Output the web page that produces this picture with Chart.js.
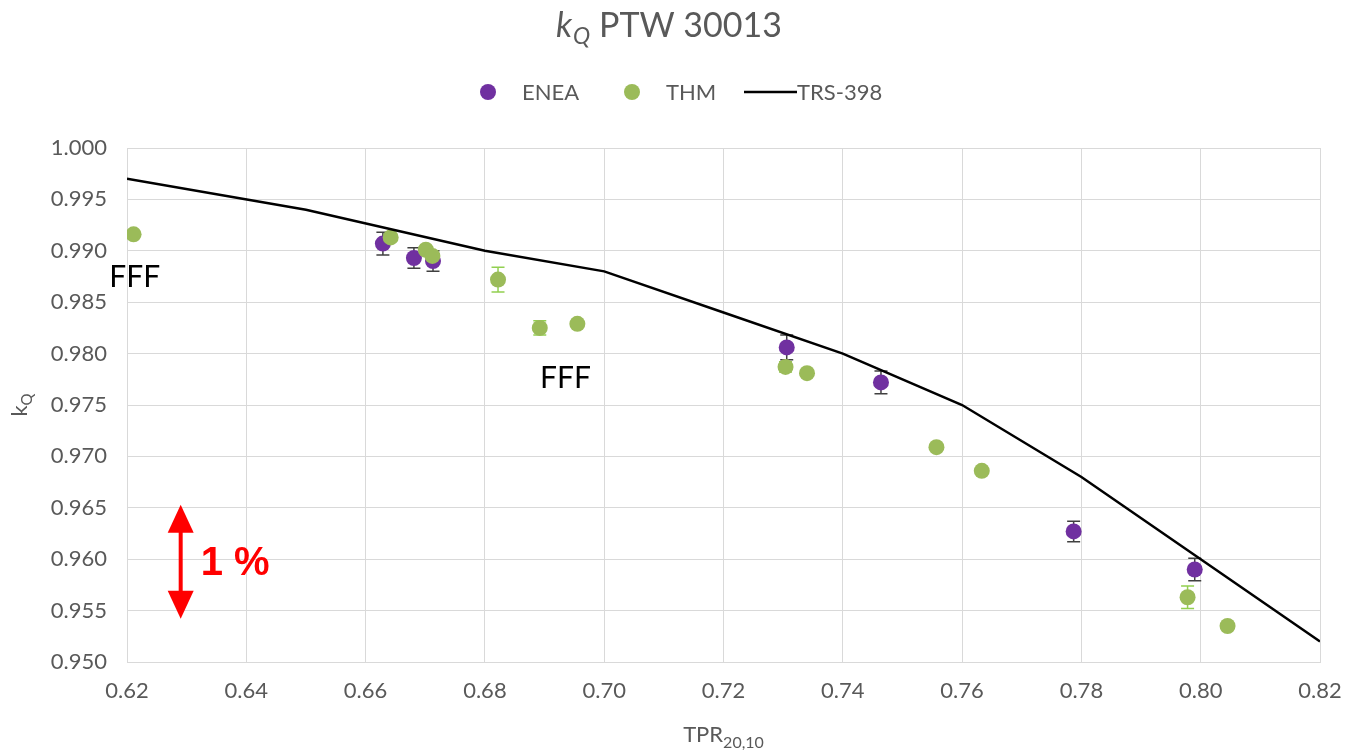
<!DOCTYPE html>
<html>
<head>
<meta charset="utf-8">
<title>kQ PTW 30013</title>
<script src="https://cdn.jsdelivr.net/npm/chart.js@4.4.1/dist/chart.umd.min.js"></script>
<style>
  html, body { margin: 0; padding: 0; background: #fff; }
  #wrap { width: 1346px; height: 753px; position: relative; }
</style>
</head>
<body>
<div id="wrap"><canvas id="kqChart" width="1346" height="753"></canvas></div>
<script>
// --- data ---
const eneaTpr = [0.6629, 0.6681, 0.6713, 0.7306, 0.7464, 0.7787, 0.7990];
const eneaKq  = [0.9907, 0.9893, 0.9890, 0.9806, 0.9772, 0.9627, 0.9590];
const eneaErr = [0.0011, 0.0010, 0.0010, 0.0012, 0.0011, 0.0010, 0.0011];

const thmTpr = [0.6211, 0.6642, 0.6701, 0.6712, 0.6822, 0.6892, 0.6955, 0.7304, 0.7340, 0.7557, 0.7633, 0.7978, 0.8045];
const thmKq  = [0.9916, 0.9913, 0.9901, 0.9895, 0.9872, 0.9825, 0.9829, 0.9787, 0.9781, 0.9709, 0.9686, 0.9563, 0.9535];
const thmErr = [0,      0.0003, 0.0003, 0.0003, 0.0012, 0.0007, 0,      0.0005, 0,      0,      0,      0.0011, 0];

const trsTpr = [0.62, 0.65, 0.68, 0.70, 0.72, 0.74, 0.76, 0.78, 0.80, 0.82];
const trsKq  = [0.997, 0.994, 0.990, 0.988, 0.984, 0.980, 0.975, 0.968, 0.960, 0.952];

const seriesNames = ['ENEA', 'THM', 'TRS-398'];

const textGray = '#595959';
const FONT = 'Lato, "Open Sans", sans-serif';

const toPoints = (xs, ys) => xs.map((x, i) => ({ x: x, y: ys[i] }));

// --- error bars drawn behind each series' markers ---
const errorBars = {
    id: 'errorBars',
    beforeDatasetDraw(chart, args) {
        const ds = chart.data.datasets[args.index];
        if (!ds.errors) return;
        const xs = chart.scales.x, ys = chart.scales.y;
        const c = chart.ctx;
        c.save();
        c.strokeStyle = ds.errorColor;
        c.lineWidth = 1.5;
        ds.data.forEach((p, i) => {
            const e = ds.errors[i];
            if (!e) return;
            const px = xs.getPixelForValue(p.x);
            const top = ys.getPixelForValue(p.y + e);
            const bot = ys.getPixelForValue(p.y - e);
            c.beginPath();
            c.moveTo(px, top); c.lineTo(px, bot);
            c.moveTo(px - 6.5, top); c.lineTo(px + 6.5, top);
            c.moveTo(px - 6.5, bot); c.lineTo(px + 6.5, bot);
            c.stroke();
        });
        c.restore();
    }
};

// --- title, legend, axis titles, notes ---
const decorations = {
    id: 'decorations',
    afterDraw(chart) {
        const c = chart.ctx;
        const area = chart.chartArea;
        const xs = chart.scales.x, ys = chart.scales.y;
        c.save();

        // title: k_Q PTW 30013
        c.fillStyle = textGray;
        c.textBaseline = 'alphabetic';
        const tY = 37;
        c.font = 'italic 34px ' + FONT;
        const wK = c.measureText('k').width;
        c.font = 'italic 23px ' + FONT;
        const wQ = c.measureText('Q').width;
        const rest = ' PTW 30013';
        const tx = 556;
        c.font = 'italic 34px ' + FONT;
        c.fillText('k', tx, tY);
        c.font = 'italic 23px ' + FONT;
        c.fillText('Q', tx + wK + 1, tY + 7);
        c.font = '34px ' + FONT;
        c.fillText(rest, tx + wK + wQ + 1, tY);

        // legend
        const ly = 92;
        c.font = '22px ' + FONT;
        c.textBaseline = 'middle';
        const items = chart.data.datasets;
        const legendX = [488, 632, 744];
        items.forEach((ds, i) => {
            const x0 = legendX[i];
            if (ds.showLine === false) {
                c.fillStyle = ds.backgroundColor;
                c.beginPath();
                c.arc(x0, ly, 8, 0, Math.PI * 2);
                c.fill();
                c.fillStyle = textGray;
                c.fillText(ds.label, x0 + 34, ly + 1);
            } else {
                c.strokeStyle = ds.borderColor;
                c.lineWidth = 2.5;
                c.beginPath();
                c.moveTo(x0, ly); c.lineTo(x0 + 53, ly);
                c.stroke();
                c.fillStyle = textGray;
                c.fillText(ds.label, x0 + 53, ly + 1);
            }
        });

        // x axis title: TPR_20,10
        const xMid = (area.left + area.right) / 2;
        c.textBaseline = 'alphabetic';
        c.font = '22px ' + FONT;
        const wT = c.measureText('TPR').width;
        c.font = '16px ' + FONT;
        const wS = c.measureText('20,10').width;
        const sx = xMid - (wT + wS) / 2;
        c.fillStyle = textGray;
        c.font = '22px ' + FONT;
        c.fillText('TPR', sx, 742);
        c.font = '16px ' + FONT;
        c.fillText('20,10', sx + wT, 748);

        // y axis title: k_Q (rotated)
        c.save();
        c.translate(27, (area.top + area.bottom) / 2);
        c.rotate(-Math.PI / 2);
        c.font = '22px ' + FONT;
        const wk = c.measureText('k').width;
        c.font = '15px ' + FONT;
        const wq = c.measureText('Q').width;
        c.font = '22px ' + FONT;
        c.fillText('k', -(wk + wq) / 2, 0);
        c.font = '15px ' + FONT;
        c.fillText('Q', -(wk + wq) / 2 + wk, 5);
        c.restore();

        // FFF notes
        c.fillStyle = '#000';
        c.font = '30px ' + FONT;
        c.textAlign = 'center';
        c.textBaseline = 'middle';
        c.fillText('FFF', xs.getPixelForValue(0.6213), ys.getPixelForValue(0.9874));
        c.fillText('FFF', xs.getPixelForValue(0.6935), ys.getPixelForValue(0.9776));

        // red 1 % arrow
        const ax = xs.getPixelForValue(0.6290);
        const aTop = ys.getPixelForValue(0.9653);
        const aBot = ys.getPixelForValue(0.9542);
        c.fillStyle = '#ff0000';
        c.strokeStyle = '#ff0000';
        c.lineWidth = 4;
        c.beginPath();
        c.moveTo(ax, aTop + 25); c.lineTo(ax, aBot - 25);
        c.stroke();
        c.beginPath();
        c.moveTo(ax, aTop); c.lineTo(ax - 13, aTop + 28); c.lineTo(ax + 13, aTop + 28);
        c.closePath(); c.fill();
        c.beginPath();
        c.moveTo(ax, aBot); c.lineTo(ax - 13, aBot - 28); c.lineTo(ax + 13, aBot - 28);
        c.closePath(); c.fill();
        c.font = 'bold 40px "Liberation Sans", Arial, sans-serif';
        c.textAlign = 'left';
        c.fillText('1 %', ax + 20, (aTop + aBot) / 2 + 2);

        c.restore();
    }
};

const ctx = document.getElementById('kqChart');

new Chart(ctx, {
    type: 'scatter',
    data: {
        datasets: [
            {
                label: seriesNames[0],
                data: toPoints(eneaTpr, eneaKq),
                errors: eneaErr,
                errorColor: '#404040',
                backgroundColor: '#7030a0',
                borderColor: '#7030a0',
                pointRadius: 8,
                pointBorderWidth: 0,
                showLine: false,
                order: 2
            },
            {
                label: seriesNames[1],
                data: toPoints(thmTpr, thmKq),
                errors: thmErr,
                errorColor: '#92d050',
                backgroundColor: '#9bbb59',
                borderColor: '#9bbb59',
                pointRadius: 8,
                pointBorderWidth: 0,
                showLine: false,
                order: 1
            },
            {
                label: seriesNames[2],
                type: 'line',
                data: toPoints(trsTpr, trsKq),
                borderColor: '#000000',
                borderWidth: 2.5,
                pointRadius: 0,
                fill: false,
                tension: 0,
                order: 0
            }
        ]
    },
    options: {
        responsive: false,
        animation: false,
        layout: { padding: { top: 148, left: 0, right: 26, bottom: 0 } },
        plugins: {
            legend: { display: false },
            title: { display: false },
            tooltip: { enabled: false }
        },
        scales: {
            x: {
                type: 'linear',
                min: 0.62,
                max: 0.82,
                afterFit: (s) => { s.height = 91; s.paddingLeft = 0; s.paddingRight = 0; },
                grid: { color: '#d9d9d9', drawTicks: false },
                border: { color: '#d9d9d9' },
                ticks: {
                    stepSize: 0.02,
                    padding: 16,
                    color: textGray,
                    font: { family: FONT, size: 22 },
                    callback: (v) => v.toFixed(2)
                }
            },
            y: {
                min: 0.95,
                max: 1.0,
                afterFit: (s) => { s.width = 127; s.paddingTop = 0; s.paddingBottom = 0; },
                grid: { color: '#d9d9d9', drawTicks: false },
                border: { color: '#d9d9d9' },
                ticks: {
                    stepSize: 0.005,
                    padding: 20,
                    color: textGray,
                    font: { family: FONT, size: 22 },
                    callback: (v) => v.toFixed(3)
                }
            }
        }
    },
    plugins: [errorBars, decorations]
});
</script>
</body>
</html>
